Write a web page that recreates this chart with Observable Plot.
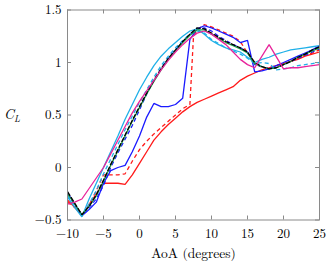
<!DOCTYPE html>
<html><head><meta charset="utf-8">
<script src="https://cdn.jsdelivr.net/npm/d3@7"></script>
<script src="https://cdn.jsdelivr.net/npm/@observablehq/plot@0.6"></script>
<style>body{margin:0;background:#fff} svg text{font-family:"Latin Modern Roman","CMU Serif","Liberation Serif","DejaVu Serif","Times New Roman",Times,"Nimbus Roman","Nimbus Roman No9 L",FreeSerif,Tinos,Georgia,"Noto Serif",serif !important;}</style>
</head><body><div id="chart"></div>
<script>
// ---- data ----
const aoa = [-10,-9,-8,-7,-6,-5,-4,-3,-2,-1,0,1,2,3,4,5,6,7,8,9,10,11,12,13,14,15,16,17,18,19,20,21,22,23,24,25];
const clRed =        [-0.31,-0.38,-0.46,-0.35,-0.25,-0.15,-0.15,-0.15,-0.16,-0.07,0.04,0.15,0.26,0.34,0.41,0.47,0.53,0.58,0.62,0.65,0.68,0.71,0.74,0.77,0.83,0.87,0.90,0.93,0.95,0.97,0.99,1.01,1.03,1.06,1.08,1.10];
const aoaRedDashed = [-10,-9,-8,-7,-6,-5,-4,-3,-2,-1,0,1,2,3,4,5,6,7,7.5,8,9,10,11,12,13,14,15,16,17,18,19,20,21,22,23,24,25];
const clRedDashed =  [-0.33,-0.38,-0.45,-0.36,-0.22,-0.07,-0.07,-0.07,-0.06,0.06,0.17,0.25,0.32,0.38,0.44,0.50,0.56,0.60,1.25,1.31,1.36,1.34,1.31,1.28,1.25,1.20,1.09,1.00,0.95,0.95,0.97,0.99,1.01,1.04,1.07,1.09,1.12];
const clBlue =       [-0.24,-0.35,-0.46,-0.40,-0.33,-0.15,-0.03,0.00,0.02,0.15,0.30,0.48,0.61,0.58,0.58,0.60,0.66,1.22,1.32,1.35,1.33,1.30,1.27,1.24,1.19,1.21,0.91,0.92,0.94,0.97,1.00,1.03,1.06,1.09,1.12,1.16];
const clBlueDashed = [-0.25,-0.35,-0.45,-0.38,-0.30,-0.17,0.00,0.14,0.27,0.40,0.55,0.70,0.83,0.94,1.04,1.12,1.20,1.27,1.32,1.33,1.30,1.25,1.21,1.17,1.14,1.10,0.98,0.96,0.94,0.95,0.98,1.01,1.04,1.07,1.10,1.13];
const clCyan =       [-0.28,-0.38,-0.47,-0.30,-0.15,0.00,0.15,0.30,0.46,0.60,0.74,0.86,0.97,1.06,1.13,1.19,1.25,1.30,1.32,1.27,1.21,1.17,1.14,1.12,1.10,1.05,1.00,1.03,1.05,1.08,1.10,1.12,1.13,1.14,1.15,1.16];
const clCyanDashed = [-0.27,-0.36,-0.46,-0.35,-0.22,-0.06,0.08,0.22,0.36,0.49,0.62,0.74,0.86,0.97,1.06,1.14,1.21,1.27,1.30,1.28,1.22,1.18,1.14,1.11,1.08,1.04,0.99,1.00,0.99,0.93,0.94,0.95,0.97,0.98,0.99,1.00];
const clGreen =      [-0.25,-0.35,-0.45,-0.37,-0.27,-0.13,0.02,0.16,0.30,0.44,0.57,0.70,0.82,0.93,1.03,1.11,1.19,1.26,1.31,1.31,1.27,1.23,1.19,1.16,1.13,1.09,0.99,0.96,0.94,0.95,0.98,1.01,1.05,1.08,1.11,1.14];
const clBlack =      [-0.23,-0.34,-0.45,-0.37,-0.26,-0.12,0.03,0.17,0.31,0.45,0.58,0.71,0.83,0.94,1.04,1.12,1.20,1.27,1.33,1.32,1.28,1.24,1.20,1.17,1.14,1.10,1.00,0.96,0.94,0.95,0.98,1.01,1.05,1.08,1.12,1.15];
const aoaMagenta = [-10,-9,-8,-7,-6,-5,-4,-3,-2,-1,0,1,2,3,4,5,6,7,8,9,10,11,12,13,14,15,16,18,20,21,22,23,24,25];
const clMagenta =    [-0.35,-0.33,-0.30,-0.20,-0.10,0.00,0.13,0.26,0.39,0.52,0.63,0.73,0.83,0.93,1.02,1.10,1.17,1.23,1.28,1.30,1.27,1.22,1.17,1.10,1.03,0.98,0.95,1.17,0.94,0.95,0.95,0.96,0.97,0.98];
const xTicks = [-10,-5,0,5,10,15,20,25];
const yTicks = [-0.5,0,0.5,1,1.5];
const xLabel = "AoA (degrees)";

// ---- series styles ----
const series = [
  {x: aoa, y: clRed, color: "#ff1a1a", dash: null},
  {x: aoaRedDashed, y: clRedDashed, color: "#ff1a1a", dash: "4,3"},
  {x: aoa, y: clBlue, color: "#1a1aff", dash: null},
  {x: aoa, y: clBlueDashed, color: "#1a1aff", dash: "4,3"},
  {x: aoa, y: clCyan, color: "#1fb0e8", dash: null},
  {x: aoa, y: clCyanDashed, color: "#1fb0e8", dash: "4,3"},
  {x: aoa, y: clGreen, color: "#22a04a", dash: null},
  {x: aoa, y: clBlack, color: "#000000", dash: "5,1.5"},
  {x: aoaMagenta, y: clMagenta, color: "#e8239a", dash: null}
];

const W = 332, H = 264, mL = 67, mR = 13, mT = 9.5, mB = 44.5;
const innerW = W - mL - mR, innerH = H - mT - mB;
const fmt = d => d3.format("~g")(d);
const grey = "#8a8a8a";
const serif = "Liberation Serif, DejaVu Serif, serif";

const lineMarks = series.map(s => Plot.line(s.x.map((v, i) => ({aoa: v, cl: s.y[i]})), {
  x: "aoa", y: "cl", stroke: s.color, strokeWidth: 1.3,
  strokeDasharray: s.dash || undefined, strokeLinejoin: "miter", strokeLinecap: "butt"
}));

const chart = Plot.plot({
  width: W, height: H,
  marginLeft: mL, marginRight: mR, marginTop: mT, marginBottom: mB,
  style: {fontFamily: serif, fontSize: "13px", background: "#fff", color: "#000"},
  x: {domain: [-10, 25]},
  y: {domain: [-0.5, 1.5]},
  marks: [
    Plot.tickX(xTicks, {x: d => d, insetTop: innerH - 4, stroke: grey}),
    Plot.tickX(xTicks, {x: d => d, insetBottom: innerH - 4, stroke: grey}),
    Plot.tickY(yTicks, {y: d => d, insetRight: innerW - 4, stroke: grey}),
    Plot.tickY(yTicks, {y: d => d, insetLeft: innerW - 4, stroke: grey}),
    Plot.axisX(xTicks, {tickSize: 0, tickPadding: 9, label: null, tickFormat: fmt, fill: "#000", fontSize: 13}),
    Plot.axisY(yTicks, {tickSize: 0, tickPadding: 6, label: null, tickFormat: fmt, fill: "#000", fontSize: 13}),
    ...lineMarks,
    Plot.frame({stroke: grey, strokeWidth: 1}),
    Plot.text([xLabel], {frameAnchor: "bottom", dy: 38, text: d => d, fill: "#000", fontSize: 13.5})
  ]
});
document.getElementById("chart").appendChild(chart);

// y-axis label C_L
const svg = d3.select(chart.tagName.toLowerCase() === "svg" ? chart : chart.querySelector("svg"));
const t = svg.append("text")
  .attr("x", 12).attr("y", mT + innerH / 2 + 4)
  .attr("font-size", 14)
  .attr("font-style", "italic").attr("fill", "#000");
t.append("tspan").text("C");
t.append("tspan").attr("font-size", 9.5).attr("dy", 3).text("L");
</script>
</body></html>
